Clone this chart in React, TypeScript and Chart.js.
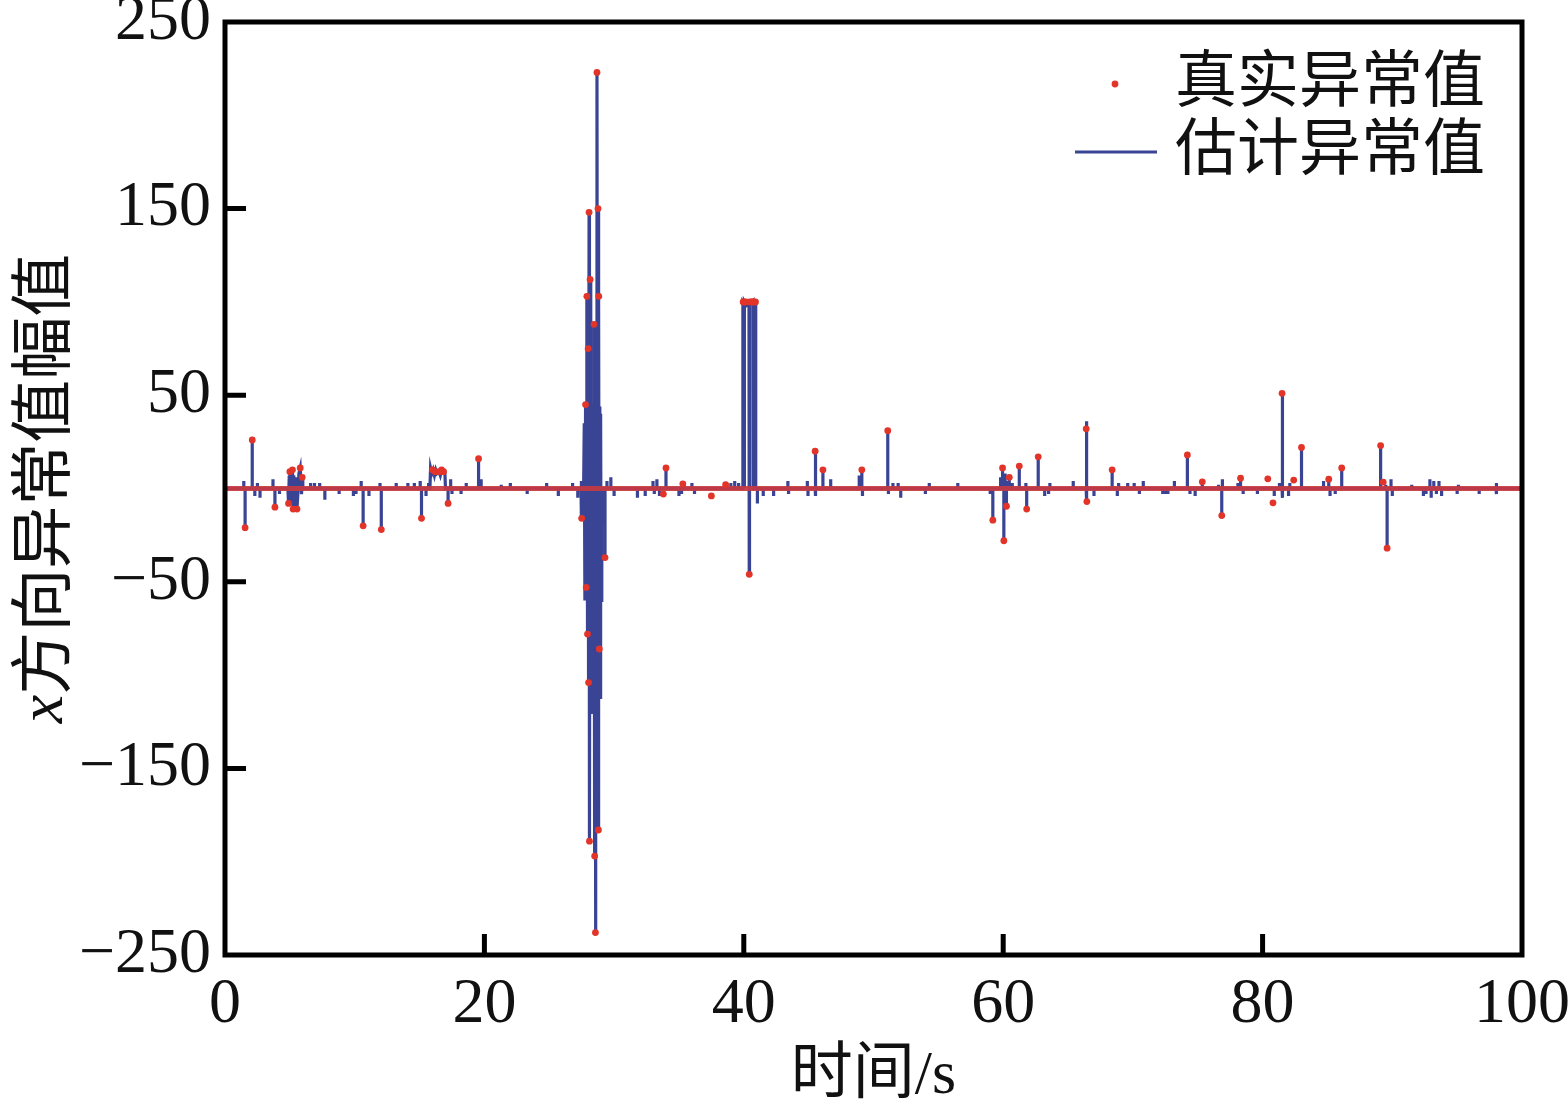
import React, { useEffect, useRef } from "react";
import { Chart, registerables } from "chart.js";

Chart.register(...registerables);

// axis ticks
const xTicks = [0, 20, 40, 60, 80, 100];
const yTicks = [-250, -150, -50, 50, 150, 250];

// isolated estimated anomaly spikes (time in s, amplitude)
const spikeT = [
  1.45, 1.55, 2.1, 2.3, 2.5, 2.7, 3.7, 3.85, 4.2, 6.6, 6.9, 7.3, 7.7, 8.8, 9.9, 10.1,
  10.5, 10.65, 11.1, 11.95, 12.05, 13.2, 14.1, 14.6, 15.05, 15.15, 15.5, 15.7, 17.2, 17.4,
  17.5, 18.2, 18.6, 19.55, 19.75, 21.3, 22.0, 23.3, 24.8, 25.7, 26.8, 27.2, 27.45, 27.5,
  29.3, 29.45, 29.75, 30.0, 31.8, 32.4, 33.0, 33.1, 33.3, 33.5, 34.0, 35.0, 35.2, 35.4,
  36.0, 36.2, 39.0, 39.3, 39.6, 41.05, 41.5, 42.3, 43.4, 43.45, 44.9, 44.95, 45.5, 45.55,
  46.1, 46.7, 48.9, 49.1, 49.15, 51.1, 51.15, 51.5, 51.9, 52.1, 54.0, 54.3, 56.5, 59.0,
  59.2, 59.8, 59.95, 60.05, 60.15, 60.25, 60.35, 60.47, 60.7, 61.24, 61.75, 61.81, 62.7,
  63.2, 63.5, 63.6, 65.4, 66.4, 66.45, 67.0, 68.4, 68.8, 68.9, 69.6, 70.1, 70.5, 70.8,
  72.3, 72.5, 72.7, 73.2, 74.2, 74.4, 74.8, 75.35, 76.6, 76.85, 76.9, 78.1, 78.3, 78.5,
  79.6, 80.9, 81.3, 81.5, 81.55, 82.0, 82.1, 83.0, 84.7, 85.1, 85.2, 85.6, 86.1, 89.1,
  89.5, 89.6, 89.9, 90.0, 91.5, 92.4, 92.6, 92.9, 93.0, 93.2, 93.4, 93.6, 93.8, 95.0,
  95.1, 96.7, 98.0, 98.05,
];
const spikeV = [
  4, -21, 26, -4, 3, -5, 5, -10, -3, 3, 3, 3, -6, -3, -4, -3,
  4, -20, -4, 3, -22, 3, 3, 3, 4, -16, -4, 3, -8, 5,
  -3, -3, 3, 16, 5, 2, 3, -3, 3, -4, 3, -5, 4, -16,
  -37, 4, 6, -4, -5, -4, 4, -3, 5, -4, 11, -4, -3, 3,
  3, -3, 3, 4, 3, -8, -4, -4, 4, -3, 4, -4, 20, -4,
  10, 5, 7, 10, -4, 31, -3, 3, 3, -5, -3, 3, 3, -3,
  -17, 6, 10, -28, 8, -10, 4, 5, 3, 12, 3, -11, 17,
  -4, -3, 3, 4, 36, -7, -4, 10, -4, 3, 3, 3, -3, 4,
  -3, -3, -3, 4, 19, -3, -4, 3, 2, -14, 5, 3, 5, -3,
  -3, -4, 3, 52, -5, -4, 3, 22, 4, 4, -4, -3, 11, 23,
  2, -32, 5, -4, 2, -4, -3, 5, -5, 4, -3, 4, -4, -3,
  2, -3, 3, -3,
];

// dense estimated bursts
const burst1T = [4.85, 4.9, 4.95, 5.0, 5.05, 5.1, 5.15, 5.2, 5.25, 5.3, 5.4, 5.5, 5.55, 5.6, 5.7, 5.8, 5.9, 5.95, 6.0];
const burst1V = [0, -8, 6, 9, -6, 8, -9, 10, -11, 7, -8, 6, -11, -5, 8, 11, -3, 6, 0];
const burst2T = [15.8, 15.85, 15.95, 16.05, 16.15, 16.25, 16.35, 16.5, 16.6, 16.7, 16.85, 16.95, 17.0];
const burst2V = [0, 11, 8, 10, 7, 10, 8, 9, 7, 10, 9, 9, 0];
const burst3T = [
  27.65, 27.7, 27.75, 27.8, 27.85, 27.9, 27.95, 28.0, 28.03, 28.07, 28.1, 28.15, 28.2, 28.25, 28.3,
  28.35, 28.4, 28.45, 28.5, 28.53, 28.56, 28.6, 28.64, 28.68, 28.72, 28.76, 28.79, 28.82, 28.86, 28.9,
  28.93, 28.96, 29.0, 29.05, 29.1,
];
const burst3V = [
  0, 35, -60, 45, -53, 103, -78, 75, -104, 148, -189, 112, -115, 45, -120,
  45, -112, 88, -197, 44, -238, 42, -115, 223, -112, 150, -183, 103, -110, 44,
  -112, 40, -60, -20, 0,
];
const stepT = [39.92, 39.93, 40.03, 40.04, 40.05, 40.2, 40.4, 40.42, 40.44, 40.6, 40.7, 40.72, 40.74, 40.9, 40.92];
const stepV = [0, 100, 99, 0, 100, 98, 99, -46, 100, 99, 100, 0, 100, 100, 0];

// true anomalies (red dots)
const trueT = [
  1.55, 2.1, 3.85, 4.9, 5.0, 5.2, 5.25, 5.55, 5.8, 5.95, 10.65, 12.05, 15.15, 16.0, 16.2,
  16.5, 16.7, 16.85, 17.2, 19.55, 27.5, 27.8, 27.85, 27.9, 27.95, 28.0, 28.03, 28.07,
  28.1, 28.15, 28.45, 28.5, 28.56, 28.68, 28.76, 28.79, 28.82, 28.86, 29.3, 33.8, 34.0,
  35.3, 37.5, 38.6, 39.95, 40.05, 40.15, 40.42, 40.5, 40.6, 40.7, 40.8, 40.9, 45.5, 46.1,
  49.1, 51.1, 59.2, 59.95, 60.05, 60.25, 60.47, 61.24, 61.81, 62.7, 66.4, 66.45, 68.4,
  74.2, 75.35, 76.85, 78.3, 80.4, 80.8, 81.5, 82.4, 83.0, 85.1, 86.1, 89.1, 89.3, 89.6,
];
const trueV = [
  -21, 26, -10, -8, 9, 10, -11, -11, 11, 6, -20, -22, -16, 10, 9,
  9, 10, 9, -8, 16, -16, 45, -53, 103, -78, 75, -104, 148,
  -189, 112, 88, -197, -238, 223, 150, -183, 103, -86, -37, -3, 11,
  2.5, -4, 2, 100, 100, 100, -46, 100, 100, 100, 100, 100, 20, 10,
  10, 31, -17, 11, -28, -9.5, 6, 12, -11, 17, 32, -7, 10,
  18, 3.6, -14.5, 5.5, 5.2, -7.7, 51, 4.5, 22, 5, 11, 23, 3.4, -32,
];

// zero line of the true signal
const baselineT = [0, 100];
const baselineV = [0, 0];

const BLUE = "#3a4494";
const RED = "#e3342a";
const SERIF = "'Liberation Serif', 'Times New Roman', serif";
const MIXED = "'Liberation Serif', 'Noto Sans CJK SC', serif";

function buildEstimate() {
  const pts: { x: number; y: number }[] = [{ x: 0, y: 0 }];
  spikeT.forEach((t, i) => {
    pts.push({ x: t, y: 0 }, { x: t, y: spikeV[i] }, { x: t, y: 0 });
  });
  [
    [burst1T, burst1V],
    [burst2T, burst2V],
    [burst3T, burst3V],
    [stepT, stepV],
  ].forEach(([ts, vs]) => ts.forEach((t, i) => pts.push({ x: t, y: vs[i] })));
  pts.push({ x: 100, y: 0 });
  return pts.sort((a, b) => a.x - b.x);
}

const framePlugin = {
  id: "frame",
  afterDatasetsDraw(chart: any) {
    const { ctx, chartArea: a, scales } = chart;
    ctx.save();
    ctx.strokeStyle = "#000";
    ctx.lineWidth = 5;
    ctx.lineCap = "butt";
    // inward ticks
    ctx.beginPath();
    xTicks.slice(1, -1).forEach((v) => {
      const px = scales.x.getPixelForValue(v);
      ctx.moveTo(px, a.bottom);
      ctx.lineTo(px, a.bottom - 21);
    });
    yTicks.slice(1, -1).forEach((v) => {
      const py = scales.y.getPixelForValue(v);
      ctx.moveTo(a.left, py);
      ctx.lineTo(a.left + 21, py);
    });
    ctx.stroke();
    ctx.strokeRect(a.left, a.top, a.right - a.left, a.bottom - a.top);

    // legend
    ctx.fillStyle = RED;
    ctx.beginPath();
    ctx.arc(1115, 84, 3.4, 0, Math.PI * 2);
    ctx.fill();
    ctx.strokeStyle = BLUE;
    ctx.lineWidth = 3;
    ctx.beginPath();
    ctx.moveTo(1075, 152);
    ctx.lineTo(1157, 152);
    ctx.stroke();
    ctx.fillStyle = "#111";
    ctx.font = `62px ${MIXED}`;
    ctx.textBaseline = "middle";
    ctx.textAlign = "left";
    ctx.fillText("真实异常值", 1175, 86);
    ctx.fillText("估计异常值", 1175, 154);

    // x title
    ctx.textAlign = "center";
    ctx.fillText("时间/s", (a.left + a.right) / 2, 1077);

    // y title (italic x)
    ctx.translate(45, (a.top + a.bottom) / 2);
    ctx.rotate(-Math.PI / 2);
    ctx.textAlign = "left";
    ctx.font = `italic 64px ${SERIF}`;
    const xw = ctx.measureText("x").width;
    ctx.font = `63px ${MIXED}`;
    const rest = "方向异常值幅值";
    const rw = ctx.measureText(rest).width;
    const start = -(xw + rw) / 2;
    ctx.font = `italic 64px ${SERIF}`;
    ctx.fillText("x", start, 0);
    ctx.font = `63px ${MIXED}`;
    ctx.fillText(rest, start + xw, 2);
    ctx.restore();
  },
};

export default function App() {
  const canvasRef = useRef<HTMLCanvasElement>(null);

  useEffect(() => {
    document.body.style.margin = "0";
    const chart = new Chart(canvasRef.current!.getContext("2d")!, {
      type: "scatter",
      data: {
        datasets: [
          {
            label: "真实异常值",
            data: trueT.map((t, i) => ({ x: t, y: trueV[i] })),
            backgroundColor: RED,
            borderWidth: 0,
            pointRadius: 3.4,
            showLine: false,
          },
          {
            label: "baseline",
            data: baselineT.map((t, i) => ({ x: t, y: baselineV[i] })),
            borderColor: "rgba(200,56,64,0.92)",
            borderWidth: 5,
            pointRadius: 0,
            showLine: true,
          },
          {
            label: "估计异常值",
            data: buildEstimate(),
            borderColor: BLUE,
            borderWidth: 3.2,
            pointRadius: 0,
            showLine: true,
            tension: 0,
          },
        ],
      },
      options: {
        responsive: false,
        animation: false,
        events: [],
        layout: { padding: { top: 22, right: 46, left: 0, bottom: 0 } },
        plugins: { legend: { display: false }, tooltip: { enabled: false } },
        scales: {
          x: {
            type: "linear",
            min: 0,
            max: 100,
            grid: { display: false, drawTicks: false },
            border: { display: false },
            afterBuildTicks: (s: any) => {
              s.ticks = xTicks.map((v) => ({ value: v }));
            },
            afterFit: (s: any) => {
              s.height = 149;
              s.paddingLeft = 0;
              s.paddingRight = 0;
            },
            ticks: {
              padding: 12,
              color: "#111",
              font: { family: SERIF, size: 64 },
              maxRotation: 0,
            },
          },
          y: {
            type: "linear",
            min: -250,
            max: 250,
            grid: { display: false, drawTicks: false },
            border: { display: false },
            afterBuildTicks: (s: any) => {
              s.ticks = yTicks.map((v) => ({ value: v }));
            },
            afterFit: (s: any) => {
              s.width = 225;
              s.paddingTop = 0;
              s.paddingBottom = 0;
            },
            ticks: {
              padding: 14,
              color: "#111",
              font: { family: SERIF, size: 64 },
              callback: (v: any) => (v < 0 ? "\u2212" + Math.abs(v) : String(v)),
            },
          },
        },
      },
      plugins: [framePlugin],
    });
    return () => chart.destroy();
  }, []);

  return (
    <div style={{ width: 1568, height: 1104, background: "#fff" }}>
      <canvas ref={canvasRef} width={1568} height={1104} />
    </div>
  );
}
